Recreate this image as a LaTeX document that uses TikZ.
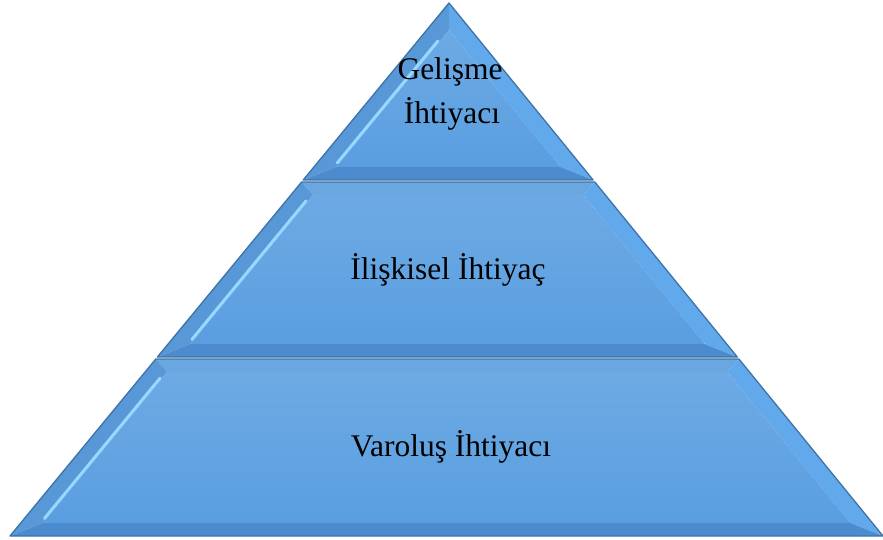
\documentclass[tikz,border=0pt]{standalone}
\usepackage{fontspec}
\setmainfont{Liberation Serif}
\usetikzlibrary{calc}
\definecolor{face}{HTML}{5A9EE0}
\definecolor{facetop}{HTML}{6DAAE4}
\definecolor{bevL}{HTML}{5898D6}
\definecolor{bevR}{HTML}{62A9EC}
\definecolor{bevT}{HTML}{6AA6E0}
\definecolor{bevB}{HTML}{4C8BCD}
\definecolor{rim}{HTML}{3D73A8}
\definecolor{hilite}{HTML}{98D8FF}
\begin{document}
\begin{tikzpicture}[x=1pt,y=-1pt,
  bevleft/.style={fill=bevL},
  bevright/.style={fill=bevR},
  bevtop/.style={fill=bevT},
  bevbottom/.style={fill=bevB},
  innerface/.style={top color=facetop,bottom color=face},
  outline/.style={draw=rim,line width=1.3pt,line join=round},
  hl/.style={draw=hilite,line width=3pt,line cap=round},
  label/.style={font=\fontsize{31.5}{38}\selectfont,text=black,align=center,inner sep=0pt}]
\useasboundingbox (0,0) rectangle (883,540);

% ---------- Level 3 (bottom) ----------
\coordinate (c3oTL) at (155.8,359);
\coordinate (c3oTR) at (738.9,359);
\coordinate (c3oBL) at (10,536);
\coordinate (c3oBR) at (883,536);
\coordinate (c3iTL) at (167.1,372);
\coordinate (c3iTR) at (727.5,372);
\coordinate (c3iBL) at (42.7,523);
\coordinate (c3iBR) at (850.4,523);
\fill[bevtop] (c3oTL) -- (c3oTR) -- (c3iTR) -- (c3iTL) -- cycle;
\fill[bevleft] (c3oTL) -- (c3iTL) -- (c3iBL) -- (c3oBL) -- cycle;
\fill[bevright] (c3oTR) -- (c3oBR) -- (c3iBR) -- (c3iTR) -- cycle;
\fill[bevbottom] (c3oBL) -- (c3oBR) -- (c3iBR) -- (c3iBL) -- cycle;
\shade[innerface] (c3iTL) -- (c3iTR) -- (c3iBR) -- (c3iBL) -- cycle;
\draw[hl] ($(c3iTL)!0.04!(c3iBL)+(-2,0)$) -- ($(c3iTL)!0.97!(c3iBL)+(-2,0)$);
\draw[outline] (c3oTL) -- (c3oTR) -- (c3oBR) -- (c3oBL) -- cycle;

% ---------- Level 2 (middle) ----------
\coordinate (c2oTL) at (301.6,182);
\coordinate (c2oTR) at (594.8,182);
\coordinate (c2oBL) at (157.4,357);
\coordinate (c2oBR) at (737.3,357);
\coordinate (c2iTL) at (312.9,195);
\coordinate (c2iTR) at (583.3,195);
\coordinate (c2iBL) at (190.2,344);
\coordinate (c2iBR) at (704.7,344);
\fill[bevtop] (c2oTL) -- (c2oTR) -- (c2iTR) -- (c2iTL) -- cycle;
\fill[bevleft] (c2oTL) -- (c2iTL) -- (c2iBL) -- (c2oBL) -- cycle;
\fill[bevright] (c2oTR) -- (c2oBR) -- (c2iBR) -- (c2iTR) -- cycle;
\fill[bevbottom] (c2oBL) -- (c2oBR) -- (c2iBR) -- (c2iBL) -- cycle;
\shade[innerface] (c2iTL) -- (c2iTR) -- (c2iBR) -- (c2iBL) -- cycle;
\draw[hl] ($(c2iTL)!0.04!(c2iBL)+(-2,0)$) -- ($(c2iTL)!0.97!(c2iBL)+(-2,0)$);
\draw[outline] (c2oTL) -- (c2oTR) -- (c2oBR) -- (c2oBL) -- cycle;

% ---------- Level 1 (top) ----------
\coordinate (c1oA) at (449,3);
\coordinate (c1oBL) at (303.2,180);
\coordinate (c1oBR) at (593.1,180);
\coordinate (c1iA) at (449,30);
\coordinate (c1iBL) at (335.9,167);
\coordinate (c1iBR) at (560.5,167);
\fill[bevleft] (c1oA) -- (c1iA) -- (c1iBL) -- (c1oBL) -- cycle;
\fill[bevright] (c1oA) -- (c1oBR) -- (c1iBR) -- (c1iA) -- cycle;
\fill[bevbottom] (c1oBL) -- (c1oBR) -- (c1iBR) -- (c1iBL) -- cycle;
\shade[innerface] (c1iA) -- (c1iBR) -- (c1iBL) -- cycle;
\draw[hl] ($(c1iA)!0.08!(c1iBL)+(-2,0)$) -- ($(c1iA)!0.97!(c1iBL)+(-2,0)$);
\draw[outline] (c1oA) -- (c1oBR) -- (c1oBL) -- cycle;

% ---------- Labels ----------
\node[label] (gel) at (450,72) {Gelişme};
\node[label] (iht1) at (452,114) {İhtiyacı};
\node[label] (ilis) at (448,270) {İlişkisel İhtiyaç};
\node[label] (var) at (451,447) {Varoluş İhtiyacı};
\end{tikzpicture}
\end{document}
